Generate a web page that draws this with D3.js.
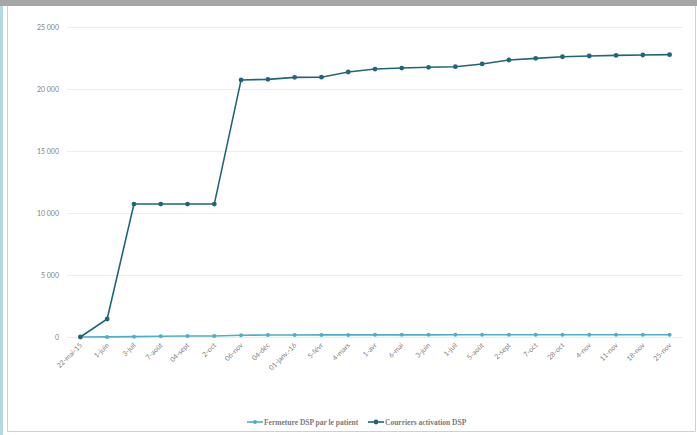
<!DOCTYPE html>
<html>
<head>
<meta charset="utf-8">
<script src="https://cdnjs.cloudflare.com/ajax/libs/d3/7.8.5/d3.min.js"></script>
<style>
  body { margin: 0; background: #fff; }
  svg { display: block; }
</style>
</head>
<body>
<svg id="chart"></svg>
<script>
// dates on the x axis
const categories = ["22-mai-15","1-juin","3-juil","7-août","04-sept","2-oct","06-nov","04-déc","01-janv.-16","5-févr","4-mars","1-avr","6-mai","3-juin","1-juil","5-août","2-sept","7-oct","28-oct","4-nov","11-nov","18-nov","25-nov"];
const fermeture = [0,10,30,60,75,80,140,160,165,170,170,172,175,175,176,178,180,180,180,181,182,182,183];
const courriers = [0,1450,10720,10720,10720,10720,20730,20780,20940,20950,21370,21610,21690,21750,21800,22020,22340,22470,22600,22660,22710,22740,22770];
const yTicks = [0,5000,10000,15000,20000,25000];
const seriesNames = ["Fermeture DSP par le patient","Courriers activation DSP"];

const W = 697, H = 435;
const colLight = "#4aafcc", colDark = "#21657a";

const svg = d3.select('#chart').attr('width', W).attr('height', H);

// page frame bits
svg.append('rect').attr('x',0).attr('y',0).attr('width',W).attr('height',H).attr('fill','#fff');
svg.append('rect').attr('x',0).attr('y',0).attr('width',3).attr('height',H).attr('fill','#b7d7e5');
svg.append('rect').attr('x',0).attr('y',0).attr('width',W).attr('height',6).attr('fill','#a5a5a5');
svg.append('line').attr('x1',7.5).attr('x2',7.5).attr('y1',6).attr('y2',431.5).attr('stroke','#d0d0d0');
svg.append('line').attr('x1',7.5).attr('x2',695.5).attr('y1',431.5).attr('y2',431.5).attr('stroke','#d0d0d0');
svg.append('line').attr('x1',695.5).attr('x2',695.5).attr('y1',6).attr('y2',431.5).attr('stroke','#d0d0d0');

const xScale = d3.scalePoint().domain(categories).range([67, 683]).padding(0.5);
const yScale = d3.scaleLinear().domain([0, 25000]).range([337, 27]);

const fmt = v => d3.format(",")(v).replace(/,/g, "\u202f");

// gridlines
svg.append('g').selectAll('line').data(yTicks).join('line')
  .attr('x1', 67).attr('x2', 683)
  .attr('y1', d => yScale(d) + 0.5).attr('y2', d => yScale(d) + 0.5)
  .attr('stroke', '#ececec').attr('stroke-width', 1);

// y axis labels
svg.append('g')
  .attr('transform', 'translate(62,0)')
  .call(d3.axisLeft(yScale).tickValues(yTicks).tickSize(0).tickFormat(d => d === 0 ? "0" : fmt(d)))
  .call(g => g.select('.domain').remove())
  .call(g => g.selectAll('text')
    .attr('font-family', 'Lato, "Open Sans", sans-serif')
    .attr('font-size', 7).attr('fill', '#7f7f7f'));

// x axis labels
svg.append('g')
  .attr('transform', 'translate(0,344)')
  .call(d3.axisBottom(xScale).tickSize(0).tickPadding(0))
  .call(g => g.select('.domain').remove())
  .call(g => g.selectAll('text')
    .attr('font-family', 'Lato, "Open Sans", sans-serif')
    .attr('font-size', 7).attr('fill', '#7f7f7f')
    .attr('text-anchor', 'end')
    .attr('dy', '0.35em')
    .attr('transform', 'rotate(-45)'));

const line = d3.line().x((d, i) => xScale(categories[i])).y(d => yScale(d));

function drawSeries(vals, col, r) {
  svg.append('path').datum(vals)
    .attr('d', line).attr('fill', 'none')
    .attr('stroke', col).attr('stroke-width', 1.6);
  svg.append('g').selectAll('circle').data(vals).join('circle')
    .attr('cx', (d, i) => xScale(categories[i]))
    .attr('cy', d => yScale(d))
    .attr('r', r).attr('fill', col);
}
drawSeries(fermeture, colLight, 2);
drawSeries(courriers, colDark, 2.4);

// legend
const legend = svg.append('g').attr('transform', 'translate(0,422)');
const lx = [247, 368];
[colLight, colDark].forEach((c, i) => {
  const g = legend.append('g').attr('transform', `translate(${lx[i]},0)`);
  g.append('line').attr('x1', 0).attr('x2', 16).attr('y1', 0).attr('y2', 0).attr('stroke', c).attr('stroke-width', 1.6);
  g.append('circle').attr('cx', 8).attr('cy', 0).attr('r', i ? 2.4 : 2).attr('fill', c);
  g.append('text').attr('x', 17).attr('y', 0).attr('dy', '0.35em')
    .attr('font-family', '"Liberation Serif", "DejaVu Serif", serif')
    .attr('font-size', 7.5).attr('font-weight', 'bold').attr('fill', '#7a7a7a')
    .text(seriesNames[i]);
});
</script>
</body>
</html>
